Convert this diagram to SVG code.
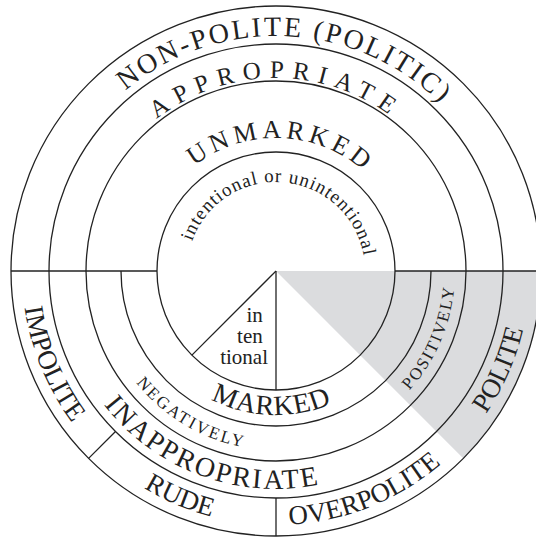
<svg xmlns="http://www.w3.org/2000/svg" xmlns:xlink="http://www.w3.org/1999/xlink" width="536" height="539" viewBox="0 0 536 539">
  <style>
    .ring { fill: none; stroke: #222; stroke-width: 1.3; }
    .div { stroke: #222; stroke-width: 1.3; fill: none; }
    text { font-family: "Liberation Serif", "Times New Roman", serif; fill: #222; }
    .big { font-size: 28px; }
    .mid { font-size: 25px; }
    .small { font-size: 17px; }
  </style>
  <defs>
    <!-- upper arcs, left to right over the top (centre 276,271) -->
    <path id="arcTop235" d="M 41,271 A 235,235 0 0 1 511,271"/>
    <path id="arcTop193" d="M 83,271 A 193,193 0 0 1 469,271"/>
    <path id="arcTop133" d="M 143,271 A 133,133 0 0 1 409,271"/>
    <path id="arcTop89" d="M 187,271 A 89,89 0 0 1 365,271"/>
    <!-- lower arcs, left to right under the bottom -->
    <path id="arcBot254" d="M 22,271 A 254,254 0 0 0 530,271"/>
    <path id="arcBot218" d="M 58,271 A 218,218 0 0 0 494,271"/>
    <path id="arcBot179" d="M 97,271 A 179,179 0 0 0 455,271"/>
    <path id="arcBot144" d="M 132,271 A 144,144 0 0 0 420,271"/>
  </defs>

  <rect width="536" height="539" fill="#ffffff"/>

  <!-- shaded polite sector -->
  <path id="polite-sector" d="M 276,271 L 541,271 A 265,265 0 0 1 463.4,458.4 Z" fill="#dbdcde"/>

  <g id="rings">
    <circle class="ring" cx="276" cy="271" r="265"/>
    <circle class="ring" cx="276" cy="271" r="227"/>
    <circle class="ring" cx="276" cy="271" r="190"/>
    <circle class="ring" cx="276" cy="271" r="119"/>
    <path class="ring" d="M 121,271 A 155,155 0 0 0 431,271"/>
  </g>

  <g id="connectors">
    <line class="div" x1="11" y1="271" x2="157" y2="271"/>
    <line class="div" x1="395" y1="271" x2="541" y2="271"/>
    <line class="div" x1="276" y1="271" x2="276" y2="390"/>
    <line class="div" x1="276" y1="271" x2="191.9" y2="355.1"/>
    <line class="div" x1="276" y1="498" x2="276" y2="536"/>
    <line class="div" x1="115.5" y1="431.5" x2="88.6" y2="458.4"/>
  </g>

  <g id="non-polite">
    <text class="big" letter-spacing="2.4"><textPath xlink:href="#arcTop235" href="#arcTop235" startOffset="51.4%" text-anchor="middle">NON-POLITE (POLITIC)</textPath></text>
  </g>
  <g id="appropriate">
    <text class="mid" letter-spacing="8.4"><textPath xlink:href="#arcTop193" href="#arcTop193" startOffset="50%" text-anchor="middle">APPROPRIATE</textPath></text>
  </g>
  <g id="unmarked">
    <text style="font-size:26px" letter-spacing="4.6"><textPath xlink:href="#arcTop133" href="#arcTop133" startOffset="51.3%" text-anchor="middle">UNMARKED</textPath></text>
  </g>
  <g id="intentional-or-unintentional">
    <text style="font-size:19px" letter-spacing="1"><textPath xlink:href="#arcTop89" href="#arcTop89" startOffset="52.8%" text-anchor="middle">intentional or unintentional</textPath></text>
  </g>
  <g id="intentional">
    <text style="font-size:21px" text-anchor="end">
      <tspan x="268" y="322">in</tspan>
      <tspan x="268" y="343">ten</tspan>
      <tspan x="268" y="364">tional</tspan>
    </text>
  </g>
  <g id="marked">
    <text class="big" letter-spacing="0.7"><textPath xlink:href="#arcBot144" href="#arcBot144" startOffset="48.9%" text-anchor="middle">MARKED</textPath></text>
  </g>
  <g id="negatively">
    <text class="small" letter-spacing="2.4"><textPath xlink:href="#arcBot179" href="#arcBot179" startOffset="32.9%" text-anchor="middle">NEGATIVELY</textPath></text>
  </g>
  <g id="positively">
    <text class="small" letter-spacing="1.9"><textPath xlink:href="#arcBot179" href="#arcBot179" startOffset="87%" text-anchor="middle">POSITIVELY</textPath></text>
  </g>
  <g id="inappropriate">
    <text class="big" letter-spacing="2.2"><textPath xlink:href="#arcBot218" href="#arcBot218" startOffset="38.8%" text-anchor="middle">INAPPROPRIATE</textPath></text>
  </g>
  <g id="impolite">
    <text style="font-size:27px"><textPath xlink:href="#arcBot254" href="#arcBot254" startOffset="12.5%" text-anchor="middle">IMPOLITE</textPath></text>
  </g>
  <g id="rude">
    <text style="font-size:27px"><textPath xlink:href="#arcBot254" href="#arcBot254" startOffset="37.2%" text-anchor="middle">RUDE</textPath></text>
  </g>
  <g id="overpolite">
    <text style="font-size:27px"><textPath xlink:href="#arcBot254" href="#arcBot254" startOffset="62.1%" text-anchor="middle">OVERPOLITE</textPath></text>
  </g>
  <g id="polite">
    <text style="font-size:27px"><textPath xlink:href="#arcBot254" href="#arcBot254" startOffset="86.8%" text-anchor="middle">POLITE</textPath></text>
  </g>
</svg>
